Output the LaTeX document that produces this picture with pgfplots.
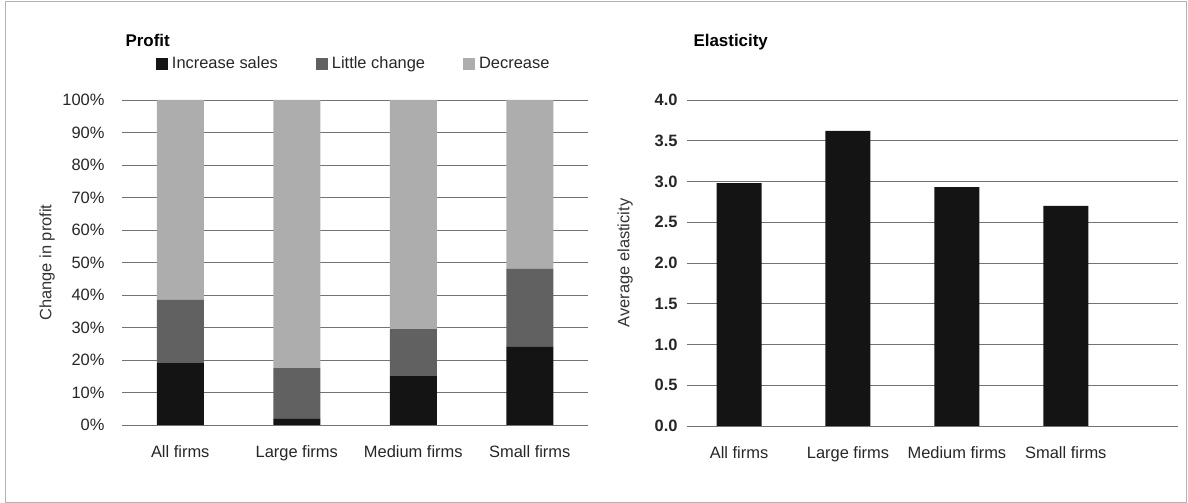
\documentclass[border=0pt]{standalone}
\usepackage{pgfplots}
\pgfplotsset{compat=1.18}
\usepackage{fontspec}
\setmainfont{Liberation Sans}

\definecolor{incr}{gray}{0.08}
\definecolor{little}{gray}{0.38}
\definecolor{decr}{gray}{0.68}
\definecolor{gridc}{gray}{0.45}

\pgfplotsset{
  firmbars/.style={
    scale only axis,
    xtick={0,1,2,3},
    xticklabels={All firms, Large firms, Medium firms, Small firms},
    ymin=0,
    axis line style={draw=none},
    major tick length=0pt,
    ymajorgrids,
    grid style={gridc, line width=0.6pt},
    xmajorgrids=false,
    tick label style={font=\fontsize{16.5}{18}\selectfont, text=black!85},
    xticklabel style={yshift=-17bp},
  },
  % rotated label: its local y points left, so yshift moves it away from the axis
  ylab/.style={every axis y label/.style={at={(rel axis cs:0,0.5)}, rotate=90,
    anchor=center, yshift=#1, font=\fontsize{16.5}{18}\selectfont, text=black!80}},
}

\begin{document}
\begin{tikzpicture}[x=1bp,y=1bp]
\useasboundingbox (0,0) rectangle (1188,503);
\draw[gray!60, line width=0.8pt] (5,1) rectangle (1186,502);

% ---------- left: profit ----------
\begin{axis}[
  firmbars,
  at={(122bp,78bp)}, anchor=south west,
  width=466bp, height=325bp,
  xmin=-0.5, xmax=3.5,
  ymax=100,
  ybar stacked, bar width=47bp,
  ytick={0,10,...,100},
  yticklabels={0\%,10\%,20\%,30\%,40\%,50\%,60\%,70\%,80\%,90\%,100\%},
  yticklabel style={xshift=-14bp},
  ylabel={Change in profit},
  ylab=75bp,
  legend columns=3,
  legend style={at={(rel axis cs:0.066,1.11)}, anchor=west, draw=none, fill=none,
    font=\fontsize{16.5}{18}\selectfont, text=black!85,
    nodes={text height=12bp, text depth=4bp},
    /tikz/every odd column/.append style={column sep=2bp},
    /tikz/every even column/.append style={column sep=36bp}},
  legend image code/.code={\fill[#1] (0bp,-6bp) rectangle (12bp,6bp);},
]
\addplot[fill=incr, draw=none] coordinates {(0,19) (1,2) (2,15) (3,24)};
\addplot[fill=little, draw=none] coordinates {(0,19.5) (1,15.5) (2,14.5) (3,24)};
\addplot[fill=decr, draw=none] coordinates {(0,61.5) (1,82.5) (2,70.5) (3,52)};
\legend{Increase sales, Little change, Decrease}
\end{axis}
\node[anchor=west, font=\bfseries\fontsize{17}{19}\selectfont] at (122,463) {Profit};

% ---------- right: elasticity ----------
\begin{axis}[
  firmbars,
  at={(687bp,77bp)}, anchor=south west,
  width=491bp, height=326bp,
  xmin=-0.478, xmax=4.03,
  ymax=4,
  ybar, bar width=45bp,
  ytick={0,0.5,...,4},
  yticklabels={0.0,0.5,1.0,1.5,2.0,2.5,3.0,3.5,4.0},
  yticklabel style={xshift=-6bp, font=\bfseries\fontsize{16.5}{18}\selectfont},
  ylabel={Average elasticity},
  ylab=62bp,
]
\addplot[fill=incr, draw=none] coordinates {(0,2.98) (1,3.62) (2,2.93) (3,2.70)};
\end{axis}
\node[anchor=west, font=\bfseries\fontsize{17}{19}\selectfont] at (690,461) {Elasticity};
\end{tikzpicture}
\end{document}
